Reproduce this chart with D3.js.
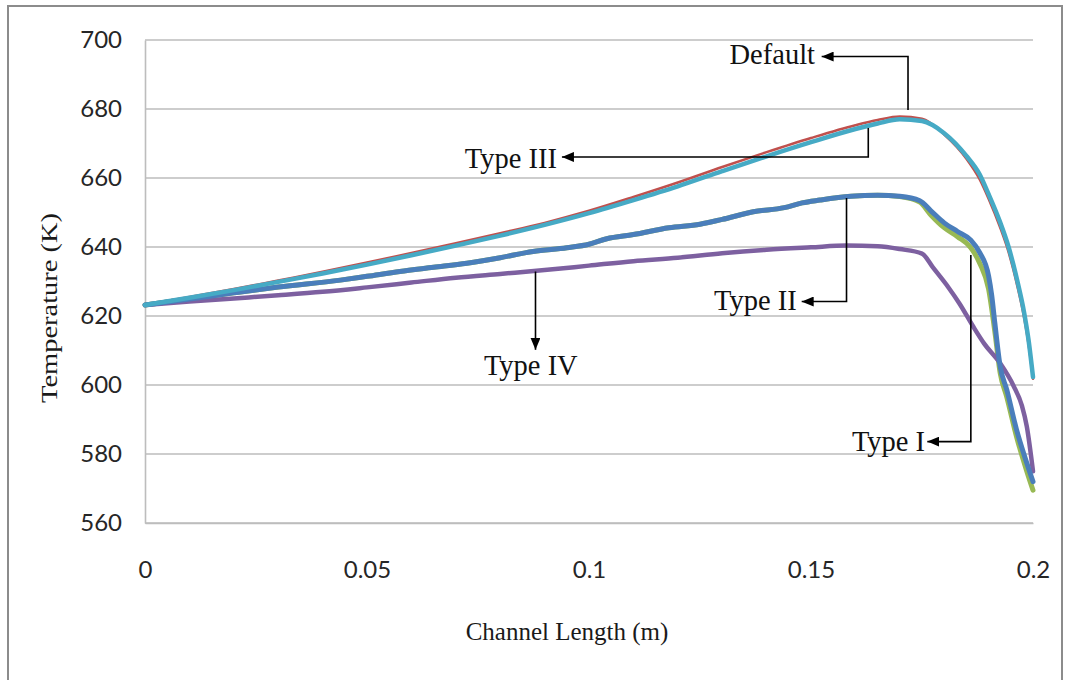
<!DOCTYPE html>
<html>
<head>
<meta charset="utf-8">
<script src="https://cdn.jsdelivr.net/npm/d3@7"></script>
<style>
  body { margin: 0; background: #ffffff; }
  svg { display: block; }
</style>
</head>
<body>
<svg id="chart" width="1069" height="680"></svg>
<script>
// Axis ticks
const xTicks = [0, 0.05, 0.1, 0.15, 0.2];
const xTickLabels = ["0", "0.05", "0.1", "0.15", "0.2"];
const yTicks = [560, 580, 600, 620, 640, 660, 680, 700];

// Default channel (m, K)
const defaultX = [0, 0.01, 0.02, 0.03, 0.04, 0.05, 0.06, 0.07, 0.08, 0.09, 0.10, 0.11, 0.12, 0.13, 0.14, 0.15, 0.16, 0.165, 0.17, 0.175, 0.18, 0.185, 0.188, 0.19, 0.1925, 0.1945, 0.1965, 0.198, 0.199, 0.2];
const defaultT = [623.3, 625.5, 627.8, 630.3, 632.8, 635.5, 638.3, 641.1, 644.0, 647.0, 650.5, 654.5, 658.7, 663.2, 667.5, 671.6, 675.3, 676.8, 677.8, 677.2, 672.6, 665.6, 659.6, 654.0, 646.0, 638.5, 628.5, 619.5, 611.8, 601.8];

// Type III channel
const type3X = [0, 0.01, 0.02, 0.03, 0.04, 0.05, 0.06, 0.07, 0.08, 0.09, 0.10, 0.11, 0.12, 0.13, 0.14, 0.15, 0.16, 0.165, 0.17, 0.175, 0.18, 0.185, 0.188, 0.19, 0.1925, 0.1945, 0.1965, 0.198, 0.199, 0.2];
const type3T = [623.2, 625.3, 627.5, 629.9, 632.3, 634.9, 637.6, 640.4, 643.3, 646.4, 649.8, 653.6, 657.6, 662.0, 666.3, 670.4, 674.2, 675.8, 677.0, 676.5, 673.0, 666.4, 661.0, 655.3, 647.5, 640.0, 630.0, 621.0, 613.0, 602.3];

// Type II channel
const type2X = [0, 0.01, 0.02, 0.03, 0.044, 0.05, 0.0574, 0.065, 0.0725, 0.08, 0.0874, 0.095, 0.1, 0.104, 0.11, 0.118, 0.125, 0.13, 0.137, 0.144, 0.148, 0.152, 0.159, 0.165, 0.17, 0.1745, 0.177, 0.18, 0.183, 0.186, 0.188, 0.19, 0.1907, 0.1914, 0.1926, 0.1941, 0.1963, 0.1986, 0.2];
const type2T = [623.2, 624.9, 626.7, 628.4, 630.4, 631.5, 632.9, 634.1, 635.3, 636.9, 638.7, 639.8, 640.8, 642.4, 643.6, 645.6, 646.6, 648.0, 650.2, 651.4, 652.8, 653.6, 654.7, 655.0, 654.7, 653.4, 650.5, 647.0, 644.5, 642.0, 638.4, 631.6, 626.0, 618.0, 605.4, 598.6, 587.0, 577.4, 572.0];

// Type I channel
const type1X = [0, 0.01, 0.02, 0.03, 0.044, 0.05, 0.0574, 0.065, 0.0725, 0.08, 0.0874, 0.095, 0.1, 0.104, 0.11, 0.118, 0.125, 0.13, 0.137, 0.144, 0.148, 0.152, 0.159, 0.165, 0.17, 0.1745, 0.177, 0.18, 0.183, 0.186, 0.188, 0.19, 0.1914, 0.1926, 0.1941, 0.1963, 0.1986, 0.2];
const type1T = [623.2, 624.9, 626.7, 628.4, 630.4, 631.5, 632.9, 634.1, 635.3, 636.9, 638.7, 639.8, 640.8, 642.4, 643.6, 645.6, 646.6, 648.0, 650.2, 651.4, 652.8, 653.6, 654.7, 655.0, 654.6, 653.0, 649.3, 645.6, 643.0, 639.8, 635.3, 627.8, 615.5, 603.5, 596.5, 585.0, 575.0, 569.5];

// Type IV channel
const type4X = [0, 0.01, 0.02, 0.03, 0.04, 0.05, 0.06, 0.07, 0.08, 0.09, 0.10, 0.11, 0.12, 0.13, 0.14, 0.15, 0.158, 0.165, 0.17, 0.175, 0.1775, 0.181, 0.1835, 0.1866, 0.189, 0.1926, 0.1956, 0.1975, 0.1986, 0.2];
const type4T = [623.2, 624.2, 625.1, 626.0, 627.0, 628.3, 629.7, 631.1, 632.2, 633.3, 634.6, 635.9, 636.9, 638.2, 639.2, 639.9, 640.4, 640.2, 639.4, 638.1, 634.0, 628.2, 623.5, 616.8, 612.0, 606.3, 599.8, 594.0, 588.0, 575.0];

// Callout labels: text, leader path (m, K) ending in an arrow, label anchor
const calloutText = ["Default", "Type III", "Type II", "Type IV", "Type I"];
const calloutPath = [
  [[0.17185, 679.7], [0.17185, 695.2], [0.1524, 695.2]],
  [[0.1629, 674.5], [0.1629, 666.1], [0.0939, 666.1]],
  [[0.1580, 654.2], [0.1580, 624.2], [0.1479, 624.2]],
  [[0.08795, 632.9], [0.08795, 610.2]],
  [[0.1860, 637.7], [0.1860, 583.6], [0.1762, 583.6]]
];
const calloutAnchor = [[0.1509, 693.0, "end"], [0.0928, 662.9, "end"], [0.1468, 621.8, "end"], [0.0869, 603.0, "middle"], [0.1757, 581.0, "end"]];

const svg = d3.select("#chart");
const plot = { left: 145, right: 1033, top: 40, bottom: 523 };

const x = d3.scaleLinear().domain([0, 0.2]).range([plot.left, plot.right]);
const y = d3.scaleLinear().domain([560, 700]).range([plot.bottom, plot.top]);

// outer frame
svg.append("rect")
  .attr("x", 8).attr("y", 6).attr("width", 1054).attr("height", 690)
  .attr("fill", "#ffffff").attr("stroke", "#8c8c8c").attr("stroke-width", 2);

// horizontal gridlines
svg.append("g").selectAll("line").data(yTicks).join("line")
  .attr("x1", plot.left).attr("x2", plot.right)
  .attr("y1", d => y(d)).attr("y2", d => y(d))
  .attr("stroke", "#bdbdbd").attr("stroke-width", 1.6);

// y axis
const yAxis = svg.append("g").attr("transform", `translate(${plot.left},0)`)
  .call(d3.axisLeft(y).tickValues(yTicks).tickSize(0).tickPadding(23));
yAxis.select(".domain").attr("stroke", "#bdbdbd").attr("stroke-width", 1.6);
yAxis.selectAll("text")
  .attr("font-family", "Lato, 'Liberation Sans', sans-serif")
  .attr("font-size", 24).attr("fill", "#262626");

// x axis
const xAxis = svg.append("g").attr("transform", `translate(0,${plot.bottom})`)
  .call(d3.axisBottom(x).tickValues(xTicks).tickFormat((d, i) => xTickLabels[i]).tickSize(0).tickPadding(38));
xAxis.select(".domain").attr("stroke", "#bdbdbd").attr("stroke-width", 1.6);
xAxis.selectAll("text")
  .attr("font-family", "Lato, 'Liberation Sans', sans-serif")
  .attr("font-size", 24).attr("fill", "#262626");

// axis titles
svg.append("text")
  .attr("transform", "translate(57,308) rotate(-90)")
  .attr("text-anchor", "middle")
  .attr("font-family", "'Liberation Serif', 'Times New Roman', serif")
  .attr("font-size", 23).attr("fill", "#1a1a1a")
  .attr("textLength", 190).attr("lengthAdjust", "spacingAndGlyphs")
  .text("Temperature (K)");

svg.append("text")
  .attr("x", 567).attr("y", 640)
  .attr("text-anchor", "middle")
  .attr("font-family", "'Liberation Serif', 'Times New Roman', serif")
  .attr("font-size", 25).attr("fill", "#1a1a1a")
  .text("Channel Length (m)");

// series
const line = d3.line().x(d => x(d[0])).y(d => y(d[1])).curve(d3.curveMonotoneX);
const zip = (xs, ts) => xs.map((v, i) => [v, ts[i]]);

const series = [
  { xs: type1X, ts: type1T, color: "#98b954", width: 5 },
  { xs: type4X, ts: type4T, color: "#7d60a0", width: 4.5 },
  { xs: type2X, ts: type2T, color: "#4a7ebb", width: 5 },
  { xs: defaultX, ts: defaultT, color: "#c0504d", width: 2.5 },
  { xs: type3X, ts: type3T, color: "#46aac5", width: 4.5 }
];

svg.append("g").selectAll("path").data(series).join("path")
  .attr("d", s => line(zip(s.xs, s.ts)))
  .attr("fill", "none")
  .attr("stroke", s => s.color)
  .attr("stroke-width", s => s.width)
  .attr("stroke-linejoin", "round")
  .attr("stroke-linecap", "round");

// callouts
svg.append("defs").append("marker")
  .attr("id", "arrow").attr("viewBox", "0 0 12 10")
  .attr("refX", 12).attr("refY", 5)
  .attr("markerWidth", 12).attr("markerHeight", 10)
  .attr("markerUnits", "userSpaceOnUse")
  .attr("orient", "auto")
  .append("path").attr("d", "M0,0 L12,5 L0,10 Z").attr("fill", "#000");

const leader = d3.line().x(d => x(d[0])).y(d => y(d[1]));
svg.append("g").selectAll("path").data(calloutPath).join("path")
  .attr("d", d => leader(d))
  .attr("fill", "none").attr("stroke", "#000").attr("stroke-width", 1.6)
  .attr("marker-end", "url(#arrow)");

svg.append("g").selectAll("text").data(calloutText).join("text")
  .attr("x", (d, i) => x(calloutAnchor[i][0]))
  .attr("y", (d, i) => y(calloutAnchor[i][1]))
  .attr("text-anchor", (d, i) => calloutAnchor[i][2])
  .attr("font-family", "'Liberation Serif', 'Times New Roman', serif")
  .attr("font-size", 28.5).attr("fill", "#111")
  .text(d => d);
</script>
</body>
</html>
